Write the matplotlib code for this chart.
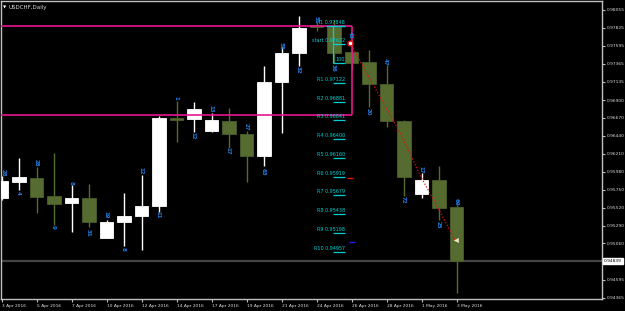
import matplotlib.pyplot as plt
import matplotlib.transforms as mtransforms

# daily USDCHF candles, 3 Apr 2016 .. 3 May 2016 (sunday bars included)
opens = [0.95644, 0.95849, 0.95900, 0.95670, 0.95580, 0.95644, 0.95131, 0.95336, 0.95413,
         0.95541, 0.96670, 0.96657, 0.96503, 0.96631, 0.96465, 0.96183, 0.97132, 0.97504,
         0.97863, 0.97837, 0.97516, 0.97388, 0.97106, 0.96631, 0.95695, 0.95875, 0.95528]
highs = [0.95926, 0.96157, 0.96041, 0.96221, 0.95811, 0.95823, 0.95362, 0.95708, 0.95939,
         0.96696, 0.96888, 0.96875, 0.96734, 0.96798, 0.96503, 0.97337, 0.97580, 0.97978,
         0.97901, 0.97927, 0.97670, 0.97542, 0.97350, 0.96644, 0.95965, 0.96054, 0.95554]
lows = [0.95618, 0.95746, 0.95452, 0.95298, 0.95208, 0.95272, 0.95125, 0.95028, 0.94977,
        0.95464, 0.96362, 0.96490, 0.96490, 0.96285, 0.95849, 0.96054, 0.96478, 0.97337,
        0.97786, 0.97375, 0.97285, 0.96811, 0.96554, 0.95670, 0.95644, 0.95362, 0.94426]
closes = [0.95862, 0.95913, 0.95657, 0.95567, 0.95644, 0.95336, 0.95336, 0.95413, 0.95541,
          0.96670, 0.96644, 0.96785, 0.96644, 0.96465, 0.96183, 0.97132, 0.97504, 0.97824,
          0.97837, 0.97504, 0.97375, 0.97106, 0.96631, 0.95913, 0.95875, 0.95516, 0.94836]

date_ticks = [0, 2, 4, 6, 8, 10, 12, 14, 16, 18, 20, 22, 24, 26]
date_labels = ['3 Apr 2016', '5 Apr 2016', '7 Apr 2016', '10 Apr 2016', '12 Apr 2016',
               '14 Apr 2016', '17 Apr 2016', '19 Apr 2016', '21 Apr 2016', '24 Apr 2016',
               '26 Apr 2016', '28 Apr 2016', '1 May 2016', '3 May 2016']
price_ticks = [0.98055, 0.97825, 0.97595, 0.97365, 0.97135, 0.96900, 0.96670, 0.96440,
               0.96210, 0.95980, 0.95750, 0.95520, 0.95290, 0.95060, 0.94595, 0.94365]
last_price = 0.94836
last_label = '0.94839'

# small blue numbers next to each bar
num_text = ['28', '4', '28', '9', '8', '31', '19', '8', '12', '11', '1', '12', '13', '17',
            '27', '63', '55', '32', '51', '36', '43', '20', '47', '72', '17', '25', '69']
num_price = [0.95965, 0.95708, 0.96093, 0.95272, 0.95836, 0.95195, 0.95426, 0.94990, 0.95990,
             0.95426, 0.96926, 0.96439, 0.96785, 0.96247, 0.96554, 0.95978, 0.97593, 0.97286,
             0.97927, 0.97311, 0.97734, 0.96747, 0.97388, 0.95618, 0.96003, 0.95298, 0.95593]

# target levels drawn at the 24-26 Apr bars
level_names = ['T1', 'start', '', 'R1', 'R2', 'R3', 'R4', 'R5', 'R6', 'R7', 'R8', 'R9', 'R10']
level_values = [0.97848, 0.97622, 0.97375, 0.97122, 0.96881, 0.96641, 0.96400, 0.96160,
                0.95919, 0.95679, 0.95438, 0.95198, 0.94957]
level_text = ['0.97848', '0.97622', '100', '0.97122', '0.96881', '0.96641', '0.96400',
              '0.96160', '0.95919', '0.95679', '0.95438', '0.95198', '0.94957']

box_top, box_bottom, box_right = 0.97850, 0.96708, 20.03

path_x = [19.91, 21.63, 22.77, 23.46, 23.91, 24.94, 25.91]
path_y = [0.97632, 0.96939, 0.96478, 0.96157, 0.95939, 0.95516, 0.95105]

bull_col = 'white'
bear_col = '#556b2f'
grid_col = '#c0c0c0'
cyan = '#00ced1'
blue = '#1e7be0'

fig = plt.figure(figsize=(6.25, 3.11), dpi=100, facecolor='black')
ax = fig.add_axes([1 / 625, 12 / 311, 601 / 625, 298 / 311], facecolor='black')

ax.axhline(last_price, color='#444444', lw=1.6, zorder=1)

for i in range(len(opens)):
    up = closes[i] >= opens[i]
    col = bull_col if up else bear_col
    ax.vlines(i, lows[i], highs[i], color=col, lw=1, zorder=2)
    lo, hi = min(opens[i], closes[i]), max(opens[i], closes[i])
    ax.bar(i, max(hi - lo, 0.00003), bottom=lo, width=0.78, color=col,
           edgecolor=col if up else '#4a5e28', lw=0.6, zorder=3)
    ax.text(max(i - 0.05, 0.12), num_price[i], num_text[i], color=blue, fontsize=4,
            rotation=270, ha='center', va='center', zorder=5, fontweight='bold', clip_on=True)

# magenta zone
ax.hlines([box_top, box_bottom], -1, box_right, color='#e8158e', lw=1.2, zorder=4)
ax.vlines(box_right, box_bottom, box_top, color='#e8158e', lw=1.2, zorder=4)

# cyan target box and levels
ax.vlines(18.94, level_values[2], level_values[0], color=cyan, lw=0.9, zorder=4)
ax.hlines(level_values[0], 18.55, 19.6, color=cyan, lw=0.9, zorder=4)
for name, val, txt in zip(level_names, level_values, level_text):
    ax.hlines(val, 18.96, 19.62, color=cyan, lw=0.9, zorder=4)
    label = (name + ' ' + txt) if name else txt
    ax.text(19.62, val + 0.00012, label, color=cyan, fontsize=3.5, ha='right', va='bottom',
            zorder=5)

# red dotted projection
ax.plot(path_x, path_y, color='#e01010', lw=0.9, ls=(0, (1, 1.5)), zorder=6)
ax.plot(path_x[0], path_y[0], 'o', ms=3.5, mfc='white', mec='#e01010', mew=1, zorder=7)
ax.plot(path_x[-1] + 0.08, path_y[-1], '<', ms=3, mfc='#ffe0a0', mec='white', mew=0.3, zorder=7)
ax.hlines(0.95900, 19.75, 20.1, color='#e01010', lw=1, zorder=6)
ax.hlines(0.95080, 19.85, 20.2, color='#2020ff', lw=1, zorder=6)

ax.set_xlim(-0.029, 34.31)
ax.set_ylim(0.94348, 0.98170)

ax.yaxis.tick_right()
ax.set_yticks(price_ticks)
ax.set_yticklabels(['%.5f' % p for p in price_ticks])
ax.set_xticks(date_ticks)
ax.set_xticklabels(date_labels, ha='left')
ax.tick_params(axis='both', colors=grid_col, labelcolor='#dddddd', labelsize=3.2,
               length=2.5, width=0.8, pad=1)
ax.tick_params(axis='y', pad=1.5, length=2)
for s in ax.spines.values():
    s.set_color(grid_col)
    s.set_linewidth(1)

trans = mtransforms.blended_transform_factory(ax.transAxes, ax.transData)
ax.text(1.003, last_price, last_label, transform=trans, fontsize=3.2, color='black',
        ha='left', va='center', bbox=dict(boxstyle='square,pad=0.2', fc='white', ec='white'))

ax.text(0.004, 0.985, '\u25bc', transform=ax.transAxes, fontsize=3, color='white',
        ha='left', va='top')
ax.text(0.013, 0.988, 'USDCHF,Daily', transform=ax.transAxes, fontsize=4, color='#dddddd',
        ha='left', va='top')

fig.savefig('out.png', dpi=100, facecolor='black')
